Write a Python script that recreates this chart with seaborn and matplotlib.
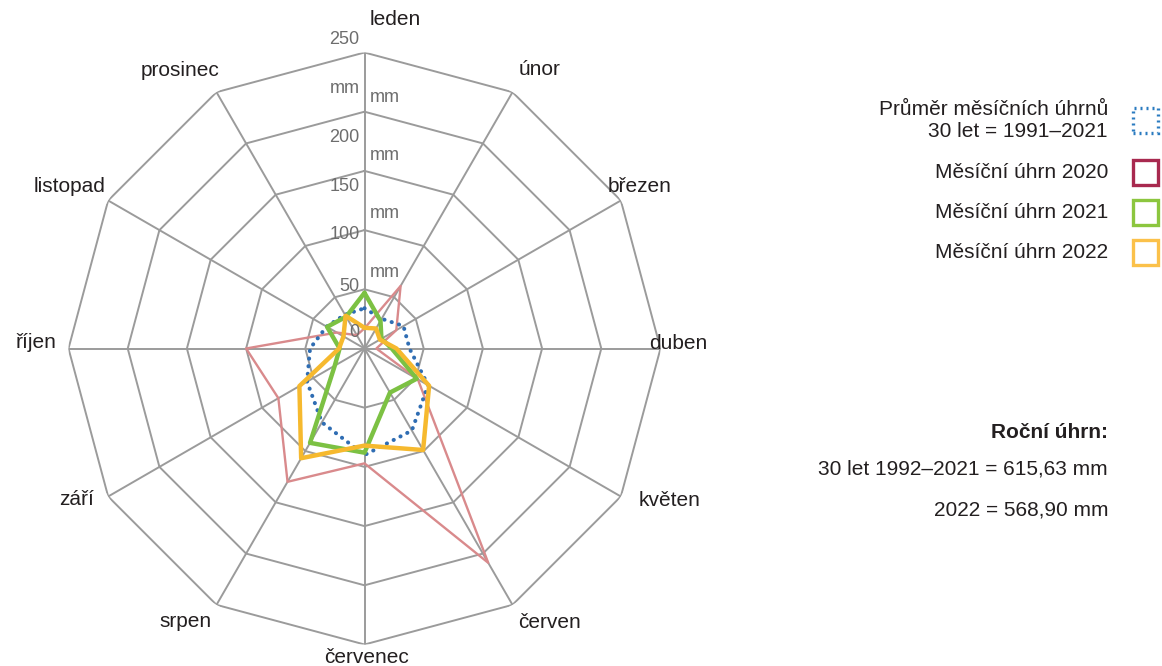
import numpy as np
import pandas as pd
import matplotlib
matplotlib.use("Agg")
import matplotlib.pyplot as plt
from matplotlib.patches import Rectangle
import seaborn as sns

# ---------------- data ----------------
months = ["leden", "únor", "březen", "duben", "květen", "červen",
          "červenec", "srpen", "září", "říjen", "listopad", "prosinec"]
avg_1991_2021 = [34, 29, 38, 38, 62, 80, 90, 72, 56, 46, 37, 33]
rain_2020 = [17, 61, 31, 10, 52, 209, 97, 130, 84, 100, 27, 13]
rain_2021 = [47, 27, 16.5, 23, 51, 43, 88, 92, 29, 21, 36.5, 31]
rain_2022 = [17.5, 19.5, 15, 27, 63, 99, 82, 107, 63.5, 21.5, 20.5, 32]
ring_values = [50, 100, 150, 200, 250]
tick_labels = ["250", "mm", "200", "150", "100", "50", "0"]
mm_labels = ["mm", "mm", "mm", "mm"]
legend_labels = ["Průměr měsíčních úhrnů\n30 let = 1991–2021",
                 "Měsíční úhrn 2020", "Měsíční úhrn 2021", "Měsíční úhrn 2022"]
annual_title = "Roční úhrn:"
annual_lines = ["30 let 1992–2021 = 615,63 mm", "2022 = 568,90 mm"]

# ---------------- style ----------------
sns.set_theme(style="white")
plt.rcParams["font.family"] = ["Liberation Sans", "DejaVu Sans"]
TXT = "#231f20"
GRID = "#9b9b9b"

W, H = 1162, 666
fig = plt.figure(figsize=(W / 100, H / 100), dpi=100)
fig.patch.set_facecolor("white")

def fx(x):
    return x / W

def fy(y):
    return 1 - y / H

cx, cy, R = 364.5, 348.5, 296
ax = fig.add_axes([fx(cx - R), fy(cy + R), 2 * R / W, 2 * R / H], projection="polar")
ax.set_theta_zero_location("N")
ax.set_theta_direction(-1)
ax.set_ylim(0, 250)
ax.grid(False)
ax.set_xticks([])
ax.set_yticks([])
ax.spines["polar"].set_visible(False)
ax.set_facecolor("none")

n = len(months)
theta = np.arange(n) * 2 * np.pi / n
theta_c = np.append(theta, 2 * np.pi)

# polygonal grid
for rv in ring_values:
    ax.plot(theta_c, [rv] * (n + 1), color=GRID, lw=1.4, zorder=1)
for t in theta:
    ax.plot([t, t], [0, ring_values[-1]], color=GRID, lw=1.4, zorder=1)

def closed(vals):
    return pd.DataFrame({"theta": theta_c, "r": list(vals) + [vals[0]]})

sns.lineplot(data=closed(rain_2020), x="theta", y="r", sort=False, estimator=None,
             ax=ax, color="#d98a8c", lw=1.7, zorder=3)
sns.lineplot(data=closed(avg_1991_2021), x="theta", y="r", sort=False, estimator=None,
             ax=ax, color="#2f6db3", lw=2.9, linestyle=(0, (0.05, 1.85)),
             dash_capstyle="round", zorder=4)
sns.lineplot(data=closed(rain_2021), x="theta", y="r", sort=False, estimator=None,
             ax=ax, color="#7cc143", lw=3.2, zorder=5)
sns.lineplot(data=closed(rain_2022), x="theta", y="r", sort=False, estimator=None,
             ax=ax, color="#f6b92e", lw=3.2, zorder=6)
ax.set_xlabel("")
ax.set_ylabel("")
ax.set_ylim(0, 250)

# radial tick labels (as placed in the original)
tick_r = [261.4, 220, 178.6, 137.2, 95.9, 52, 13.1]
for lab, rr in zip(tick_labels, tick_r):
    ax.annotate(lab, xy=(0, rr), xytext=(-5, 0), textcoords="offset pixels",
                ha="right", va="center", fontsize=13, color="#6d6d6d", zorder=8,
                annotation_clip=False)
mm_r = [212.4, 163.4, 113.6, 63.8]
for lab, rr in zip(mm_labels, mm_r):
    ax.annotate(lab, xy=(0, rr), xytext=(5, 0), textcoords="offset pixels",
                ha="left", va="center", fontsize=13, color="#6d6d6d", zorder=8,
                annotation_clip=False)

# month labels
lab_ang = [5.3, 32.2, 59.6, 89.0, 116.4, 145.9, 179.7, 213.3, 242.3, 271.0, 298.7, 326.5]
lab_r = [278.7, 278.0, 269.7, 265.0, 288.0, 279.0, 260.6, 276.0, 275.0, 277.5, 284.4, 282.0]
for lab, a, rr in zip(months, lab_ang, lab_r):
    ax.text(np.deg2rad(a), rr, lab, ha="center", va="center", fontsize=15,
            color=TXT, clip_on=False)

# legend (manual, right aligned text with squares)
leg_colors = ["#2a7bc0", "#a8294f", "#8cc63f", "#fbc14a"]
leg_y = [120.5, 172.5, 212.5, 252.0]
for i, (lab, col, yy) in enumerate(zip(legend_labels, leg_colors, leg_y)):
    fig.text(fx(1108), fy(yy), lab, ha="right", va="center", fontsize=15,
             color=TXT, linespacing=1.15, multialignment="right")
    rect = Rectangle((fx(1133), fy(yy + 12.5)), 25 / W, 25 / H,
                     transform=fig.transFigure, facecolor="white",
                     edgecolor=col, lw=2.4,
                     linestyle=(0, (0.6, 1.2)) if i == 0 else "-")
    fig.add_artist(rect)

fig.text(fx(1108), fy(432), annual_title, ha="right", va="center", fontsize=15,
         color=TXT, fontweight="bold")
for lab, yy in zip(annual_lines, [469, 510]):
    fig.text(fx(1108), fy(yy), lab, ha="right", va="center", fontsize=15, color=TXT)

fig.savefig("out.png", dpi=100, facecolor="white")
